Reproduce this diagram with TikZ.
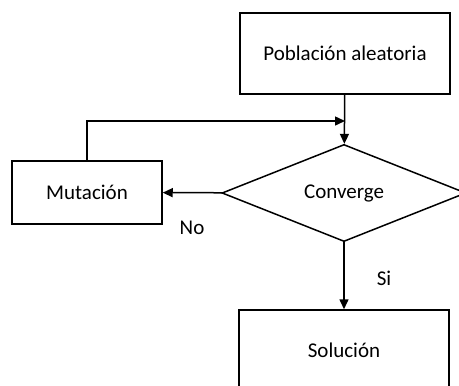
\documentclass[tikz,border=0pt]{standalone}
\usepackage{fontspec}
\setmainfont{Carlito}
\usetikzlibrary{arrows.meta, shapes.geometric}

\begin{document}
\begin{tikzpicture}[x=1pt, y=-1pt, >={Triangle[length=10pt, width=9pt]}, line width=1.5pt]
				\tikzstyle{box} = [draw=black, rectangle, inner sep=0pt, font=\fontsize{21}{25}\selectfont]
				\tikzstyle{decide} = [draw=black, diamond, inner sep=0pt, minimum width=244pt, minimum height=96pt, font=\fontsize{21}{25}\selectfont]
				\tikzstyle{invis} = [draw=none, font=\fontsize{21}{25}\selectfont]
				
				\useasboundingbox (0, 0) rectangle (459, 386);
				
				\node[box, minimum width=210pt, minimum height=81pt]	at (345, 53.5)	(pob)	{Población aleatoria};
				\node[decide]	at (344, 193)	(conv)	{Converge};
				\node[box, minimum width=150pt, minimum height=63pt]	at (87, 192.5)	(mut)	{Mutación};
				\node[box, minimum width=210pt, minimum height=81pt]	at (344, 350.5)	(sol)	{Solución};
				\node[invis]	at (192, 228)	(no)	{No};
				\node[invis]	at (384, 278)	(si)	{Si};
				\coordinate	(join)	at (345, 121);
				
				\path[->]
				(pob)	edge	(conv)
				(conv)	edge	(mut)
				(conv)	edge	(sol);
				\draw[->] (mut.north) |- (join);
\end{tikzpicture}
\end{document}
